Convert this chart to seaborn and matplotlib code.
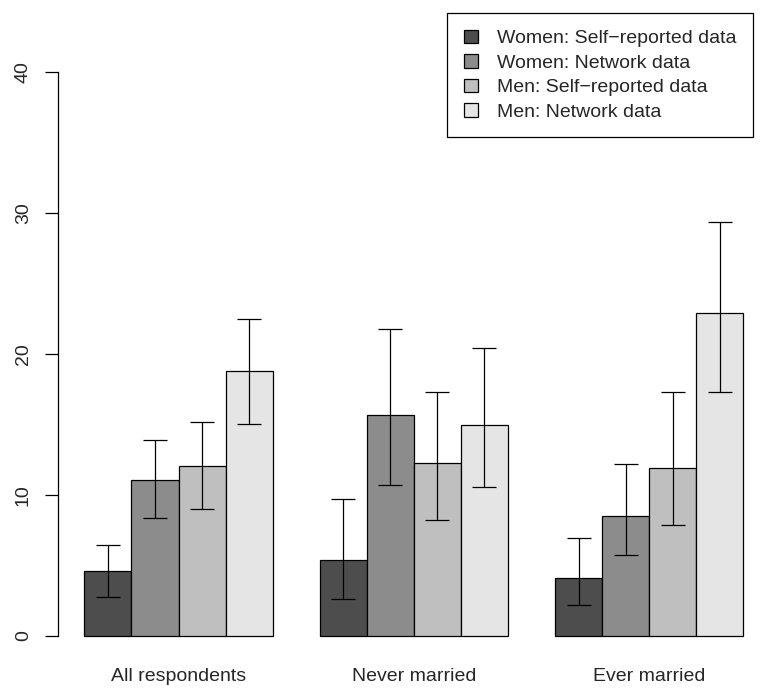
import pandas as pd
import numpy as np
import matplotlib
matplotlib.use("Agg")
import matplotlib.pyplot as plt
from matplotlib.patches import Patch
import seaborn as sns

# data
groups = ["All respondents", "Never married", "Ever married"]
series = ["Women: Self\u2212reported data", "Women: Network data",
          "Men: Self\u2212reported data", "Men: Network data"]
colors = ["#4d4d4d", "#8c8c8c", "#bfbfbf", "#e5e5e5"]

women_self = [4.6, 5.4, 4.1]
women_net = [11.1, 15.7, 8.55]
men_self = [12.1, 12.3, 11.95]
men_net = [18.8, 15.0, 22.9]

women_self_lo = [2.75, 2.65, 2.2]
women_self_hi = [6.45, 9.75, 6.95]
women_net_lo = [8.4, 10.75, 5.75]
women_net_hi = [13.9, 21.8, 12.2]
men_self_lo = [9.0, 8.25, 7.85]
men_self_hi = [15.2, 17.35, 17.3]
men_net_lo = [15.05, 10.55, 17.3]
men_net_hi = [22.5, 20.45, 29.35]

means = [women_self, women_net, men_self, men_net]
lows = [women_self_lo, women_net_lo, men_self_lo, men_net_lo]
highs = [women_self_hi, women_net_hi, men_self_hi, men_net_hi]

rows = []
for s, vals in zip(series, means):
    for g, v in zip(groups, vals):
        rows.append({"group": g, "series": s, "value": v})
df = pd.DataFrame(rows)

sns.set_style("white")
plt.rcParams['font.family'] = ['Liberation Sans', 'DejaVu Sans']
FS = 14

fig = plt.figure(figsize=(7.61, 6.88), dpi=100)
# plot region placed in pixels like the R original
left, right, top, bottom = 58.3, 753, 13, 660
ax = fig.add_axes([left / 761, (688 - bottom) / 688,
                   (right - left) / 761, (bottom - top) / 688])

sns.barplot(data=df, x="group", y="value", hue="series", order=groups,
            hue_order=series, palette=colors, saturation=1, errorbar=None,
            width=0.8, edgecolor="black", linewidth=0.9, legend=False, ax=ax)

for cont, m, lo, hi in zip(ax.containers, means, lows, highs):
    xs = [b.get_x() + b.get_width() / 2 for b in cont]
    m = np.array(m)
    ax.errorbar(xs, m, yerr=[m - np.array(lo), np.array(hi) - m], fmt="none",
                ecolor="black", elinewidth=0.9, capsize=8.6, capthick=0.9)

# x: 235.35 px per category, first group centred at 178.5 px
ax.set_xlim((left - 178.5) / 235.35, (right - 178.5) / 235.35)
# y: 0 at 636 px, 14.09 px per unit
ax.set_ylim(-(bottom - 636) / 14.09, (636 - top) / 14.09)

ax.set_xlabel("")
ax.set_ylabel("")
ax.set_yticks([0, 10, 20, 30, 40])
for sp in ["top", "right", "bottom"]:
    ax.spines[sp].set_visible(False)
ax.spines["left"].set_bounds(0, 40)
ax.spines["left"].set_color("black")
ax.spines["left"].set_linewidth(0.9)
ax.tick_params(axis="y", left=True, length=9.6, width=0.9, color="black",
               labelsize=FS, pad=9.5)
ax.tick_params(axis="x", length=0, labelsize=FS, pad=6)
plt.setp(ax.get_yticklabels(), rotation=90, va="center", ha="right")

handles = [Patch(facecolor=c, edgecolor="black", linewidth=0.9) for c in colors]
leg = ax.legend(handles, series, loc="upper right", bbox_to_anchor=(1, 1),
                borderaxespad=0, frameon=True, fancybox=False, fontsize=FS,
                handlelength=0.72, handleheight=0.72, handletextpad=0.99,
                borderpad=0.85, labelspacing=0.35)
leg.get_frame().set_edgecolor("black")
leg.get_frame().set_linewidth(0.9)
leg.get_frame().set_alpha(1)

fig.savefig("out.png", dpi=100)
